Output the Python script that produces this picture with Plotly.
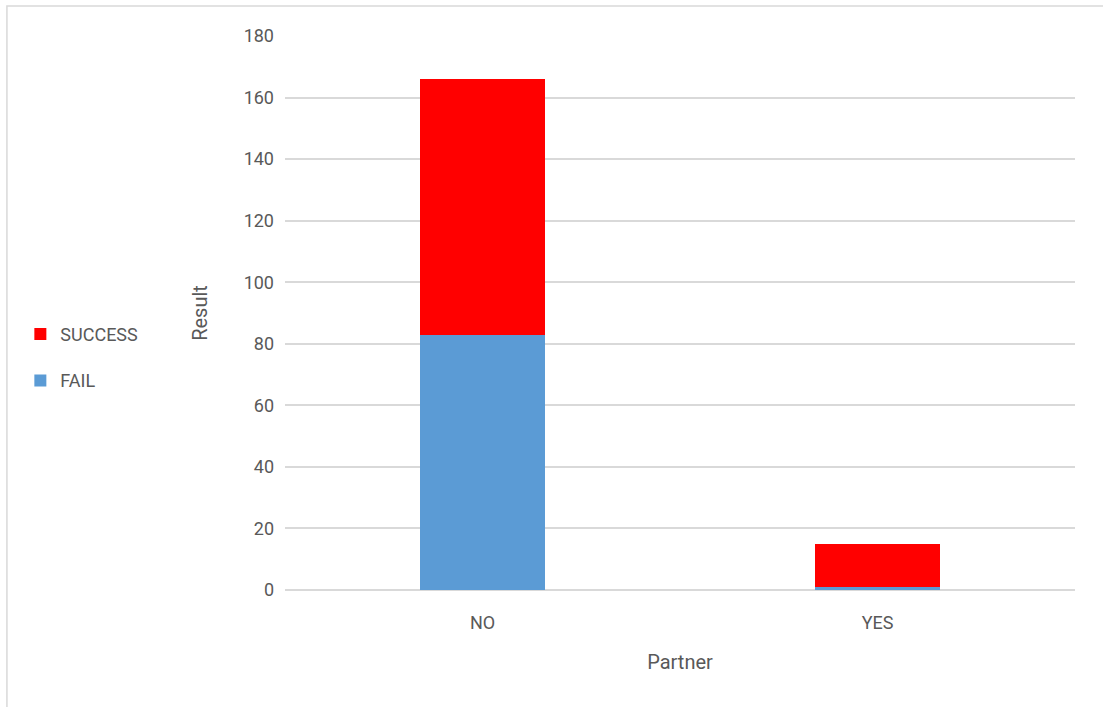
import plotly.graph_objects as go

categories = ["NO", "YES"]
fail_values = [83, 1]
success_values = [83, 14]
y_ticks = [0, 20, 40, 60, 80, 100, 120, 140, 160, 180]

FONT = "Liberation Sans Narrow, Arial Narrow, Roboto, sans-serif"
GRAY = "#595959"

fig = go.Figure()
fig.add_trace(go.Bar(name="FAIL", x=categories, y=fail_values, marker_color="#5b9bd5",
                     marker_line_width=0, legendgroup="f", legendrank=2))
fig.add_trace(go.Bar(name="SUCCESS", x=categories, y=success_values, marker_color="#ff0000",
                     marker_line_width=0, legendgroup="s", legendrank=1))

fig.update_layout(
    width=1103, height=707,
    barmode="stack",
    bargap=0.684,
    paper_bgcolor="white", plot_bgcolor="white",
    margin=dict(l=285, r=28, t=36, b=117, autoexpand=False),
    font=dict(family=FONT, size=18, color=GRAY),
    legend=dict(traceorder="grouped", x=-0.335, y=0.42, xanchor="left", yanchor="middle",
                font=dict(size=18, color=GRAY), itemwidth=30, tracegroupgap=20),
    xaxis=dict(showgrid=False, showline=False, ticks="",
               title=dict(text="Partner", font=dict(size=20, color=GRAY), standoff=22),
               tickfont=dict(size=18, color=GRAY), ticklabelstandoff=20),
    yaxis=dict(range=[0, 180], tickvals=y_ticks, showgrid=True, gridcolor="#d9d9d9", gridwidth=1.5,
               zeroline=True, zerolinecolor="#d9d9d9", zerolinewidth=1.5, ticks="",
               title=dict(text="Result", font=dict(size=20, color=GRAY), standoff=30),
               tickfont=dict(size=18, color=GRAY), ticklabelstandoff=10),
    shapes=[dict(type="rect", xref="paper", yref="paper", x0=-0.352, x1=1.1, y0=-0.3, y1=1.054,
                 line=dict(color="#d9d9d9", width=1.5), fillcolor="rgba(0,0,0,0)", layer="below")],
)

fig.write_html("out.html")
